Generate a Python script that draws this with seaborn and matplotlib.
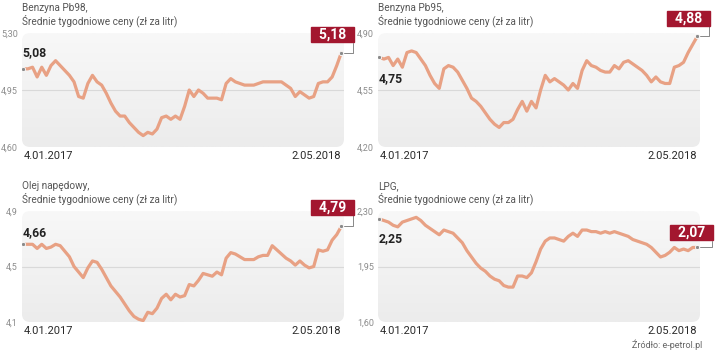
import numpy as np
import pandas as pd
import matplotlib
matplotlib.use("Agg")
import matplotlib.pyplot as plt
import seaborn as sns
from matplotlib.patches import FancyBboxPatch
from matplotlib.transforms import offset_copy

# weekly averages, 4.01.2017 - 2.05.2018
weeks = pd.date_range("2017-01-04", "2018-05-02", freq="7D")

pb98 = [5.08, 5.08, 5.09, 5.03, 5.09, 5.04, 5.10, 5.13, 5.10, 5.07,
        5.04, 5.00, 4.91, 4.90, 4.99, 5.04, 5.00, 4.98, 4.93, 4.87,
        4.82, 4.79, 4.79, 4.75, 4.72, 4.69, 4.67, 4.69, 4.68, 4.71,
        4.78, 4.79, 4.77, 4.79, 4.77, 4.85, 4.95, 4.91, 4.95, 4.93,
        4.90, 4.90, 4.90, 4.89, 4.99, 5.02, 5.00, 4.99, 4.98, 4.98,
        4.98, 4.99, 5.00, 5.00, 5.00, 5.00, 5.00, 4.98, 4.96, 4.91,
        4.94, 4.92, 4.90, 4.91, 4.99, 5.00, 5.00, 5.03, 5.10, 5.18]

pb95 = [4.75, 4.74, 4.75, 4.70, 4.74, 4.69, 4.78, 4.79, 4.78, 4.74,
        4.70, 4.64, 4.59, 4.56, 4.68, 4.70, 4.69, 4.66, 4.61, 4.56,
        4.50, 4.48, 4.45, 4.41, 4.37, 4.34, 4.32, 4.35, 4.35, 4.37,
        4.43, 4.48, 4.42, 4.48, 4.44, 4.55, 4.64, 4.60, 4.62, 4.60,
        4.58, 4.55, 4.59, 4.56, 4.67, 4.73, 4.70, 4.69, 4.67, 4.66,
        4.66, 4.70, 4.68, 4.72, 4.73, 4.71, 4.69, 4.67, 4.64, 4.60,
        4.63, 4.60, 4.59, 4.59, 4.69, 4.70, 4.72, 4.78, 4.83, 4.88]

diesel = [4.66, 4.66, 4.66, 4.63, 4.66, 4.63, 4.64, 4.66, 4.65, 4.61,
          4.57, 4.50, 4.46, 4.42, 4.49, 4.54, 4.53, 4.48, 4.42, 4.36,
          4.32, 4.28, 4.23, 4.18, 4.14, 4.12, 4.11, 4.17, 4.16, 4.20,
          4.27, 4.30, 4.26, 4.30, 4.28, 4.29, 4.37, 4.36, 4.40, 4.45,
          4.44, 4.43, 4.46, 4.44, 4.56, 4.60, 4.59, 4.57, 4.55, 4.55,
          4.55, 4.57, 4.58, 4.58, 4.65, 4.62, 4.59, 4.56, 4.54, 4.51,
          4.54, 4.51, 4.49, 4.50, 4.62, 4.61, 4.62, 4.69, 4.73, 4.79]

lpg = [2.25, 2.24, 2.23, 2.21, 2.20, 2.23, 2.24, 2.25, 2.26, 2.24,
       2.21, 2.19, 2.17, 2.15, 2.18, 2.17, 2.16, 2.13, 2.10, 2.05,
       2.01, 1.97, 1.94, 1.92, 1.89, 1.87, 1.86, 1.83, 1.82, 1.82,
       1.89, 1.89, 1.88, 1.91, 1.98, 2.06, 2.11, 2.13, 2.13, 2.12,
       2.11, 2.14, 2.16, 2.14, 2.18, 2.18, 2.17, 2.17, 2.16, 2.17,
       2.16, 2.17, 2.16, 2.15, 2.14, 2.12, 2.11, 2.10, 2.09, 2.07,
       2.04, 2.01, 2.02, 2.04, 2.07, 2.05, 2.06, 2.05, 2.07, 2.07]

titles = ["Benzyna Pb98,", "Benzyna Pb95,", "Olej napędowy,", "LPG,"]
subtitle = "Średnie tygodniowe ceny (zł za litr)"
yticks = [[4.60, 4.95, 5.30], [4.20, 4.55, 4.90], [4.1, 4.5, 4.9], [1.60, 1.95, 2.30]]
ydec = [2, 2, 1, 2]

df = pd.DataFrame({"week": weeks, "Pb98": pb98, "Pb95": pb95, "ON": diesel, "LPG": lpg})
cols = ["Pb98", "Pb95", "ON", "LPG"]

# layout (figure pixels): left, top, width, height of the grey plot box
W, H = 720, 351
boxes = [(22, 33, 322, 114), (378, 33, 322, 114), (22, 211, 322, 111), (378, 211, 322, 111)]
start_offset = [16, -21, 12, -20]            # px, + above the first point, - below
end_offset = [(12, 11), (12, 11), (12, 12), (15, 8)]   # px, right/up from last point

sns.set_theme(style="white")
plt.rcParams["font.family"] = ["Roboto", "DejaVu Sans"]

LINE = "#e8a184"
RED = "#a3172f"

fig = plt.figure(figsize=(W / 100, H / 100), dpi=100)
fig.patch.set_facecolor("white")

for k, col in enumerate(cols):
    l, t, w, h = boxes[k]
    ax = fig.add_axes([l / W, 1 - (t + h) / H, w / W, h / H])
    ax.patch.set_visible(False)
    for s in ax.spines.values():
        s.set_visible(False)

    # rounded grey background with a soft vertical gradient
    bg = FancyBboxPatch((0, 0), 1, 1, boxstyle="round,pad=0,rounding_size=0.025",
                        mutation_aspect=w / h, transform=ax.transAxes,
                        facecolor="none", edgecolor="none")
    ax.add_patch(bg)
    grad = np.linspace(0, 1, 64).reshape(-1, 1)
    im = ax.imshow(grad, extent=[0, 1, 0, 1], transform=ax.transAxes, aspect="auto",
                   cmap=matplotlib.colors.LinearSegmentedColormap.from_list("g", ["#f8f8f8", "#ececec"]),
                   origin="upper", zorder=0)
    im.set_clip_path(bg)

    lo, mid, hi = yticks[k]
    ax.axhline(mid, color="#d9d9d9", lw=0.8, zorder=1)

    sns.lineplot(data=df, x="week", y=col, ax=ax, color=LINE, lw=2.3, zorder=3)

    x0, x1 = df["week"].iloc[0], df["week"].iloc[-1]
    y0, y1 = df[col].iloc[0], df[col].iloc[-1]
    ax.scatter([x0, x1], [y0, y1], s=9, color="#8a8a8a", edgecolor="white", lw=0.6, zorder=4)

    ax.set_xlim(x0 - pd.Timedelta(days=2), x1 + pd.Timedelta(days=4))
    ax.set_ylim(lo, hi)
    ax.set_yticks([lo, mid, hi])
    fmt = "{:.%df}" % ydec[k]
    ax.set_yticklabels([fmt.format(v).replace(".", ",") for v in (lo, mid, hi)])
    ax.tick_params(axis="y", length=0, pad=3, labelsize=6.5, labelcolor="#8c8c8c")
    ax.set_xticks([x0, x1])
    ax.set_xticklabels([x0.strftime("%-d.%m.%Y"), x1.strftime("%-d.%m.%Y")])
    ax.tick_params(axis="x", length=0, pad=3, labelsize=8, labelcolor="#2a2a2a")
    xl = ax.get_xticklabels()
    xl[0].set_ha("left")
    xl[1].set_ha("right")
    ax.set_xlabel("")
    ax.set_ylabel("")

    # titles
    ax.text(0, 1 + 25 / h, titles[k], transform=ax.transAxes, ha="left", va="center",
            fontsize=7.2, color="#555555")
    ax.text(0, 1 + 12 / h, subtitle, transform=ax.transAxes, ha="left", va="center",
            fontsize=7.2, color="#555555")

    # first value
    tr = offset_copy(ax.transData, fig=fig, x=-1, y=start_offset[k], units="dots")
    ax.text(x0, y0, f"{y0:.2f}".replace(".", ","), transform=tr, ha="left", va="center",
            fontsize=8.8, fontweight="bold", color="#222222", zorder=5)

    # last value in red box
    dx, dy = end_offset[k]
    ax.annotate("  " + f"{y1:.2f}".replace(".", ",") + "  ", xy=(x1, y1),
                xytext=(dx * 0.72, dy * 0.72),
                textcoords="offset points", ha="right", va="bottom",
                fontsize=10, fontweight="bold", color="white",
                bbox=dict(boxstyle="square,pad=0.05", fc=RED, ec=RED),
                arrowprops=dict(arrowstyle="-", color="#888888", lw=0.7, relpos=(1, 0),
                                connectionstyle="angle,angleA=90,angleB=0,rad=0",
                                shrinkA=0, shrinkB=2),
                annotation_clip=False, zorder=5)

fig.text(702 / W, 1 - 345 / H, "Źródło: e-petrol.pl", ha="right", va="center",
         fontsize=6.5, color="#666666")

fig.savefig("out.png", dpi=100, facecolor="white")
